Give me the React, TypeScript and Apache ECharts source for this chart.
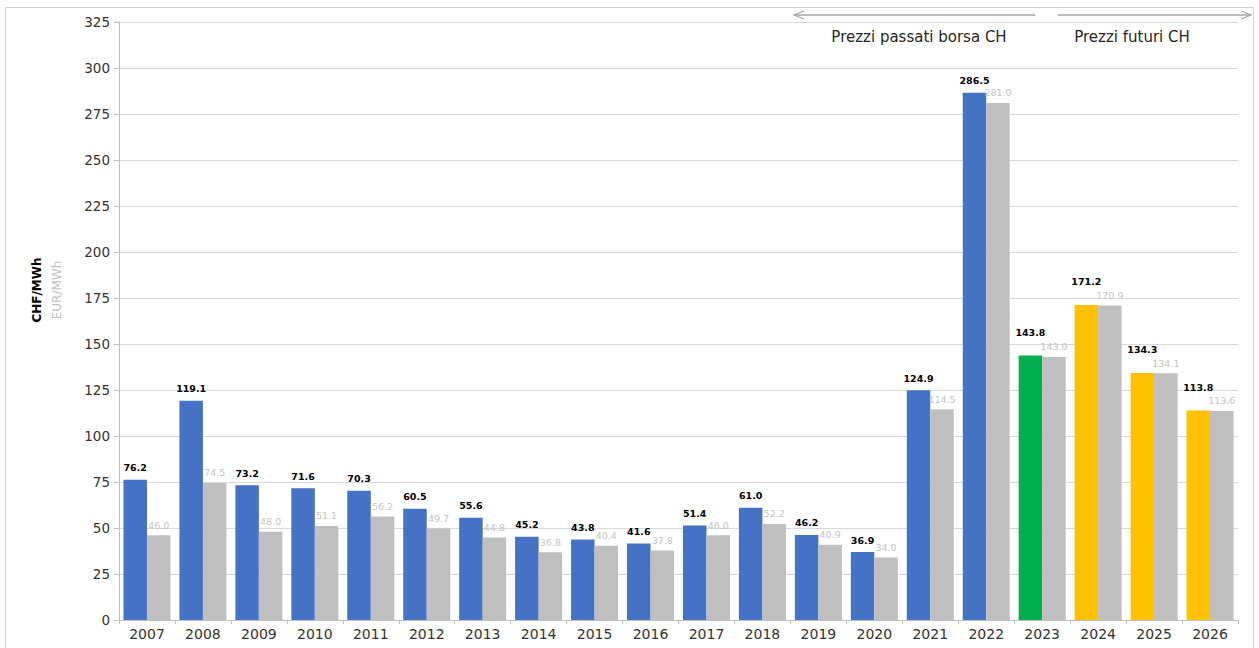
import React, { useEffect, useRef } from "react";
import * as echarts from "echarts";

const years = ["2007","2008","2009","2010","2011","2012","2013","2014","2015","2016","2017","2018","2019","2020","2021","2022","2023","2024","2025","2026"];
const chfValues = [76.2,119.1,73.2,71.6,70.3,60.5,55.6,45.2,43.8,41.6,51.4,61.0,46.2,36.9,124.9,286.5,143.8,171.2,134.3,113.8];
const eurValues = [46.0,74.5,48.0,51.1,56.2,49.7,44.8,36.8,40.4,37.8,46.0,52.2,40.9,34.0,114.5,281.0,143.0,170.9,134.1,113.6];
const yTicks = { min: 0, max: 325, interval: 25 };
const pastLabel = "Prezzi passati borsa CH";
const futureLabel = "Prezzi futuri CH";
const currentYear = 2023;

const FONT = "'DejaVu Sans', Verdana, sans-serif";

export default function App() {
  const ref = useRef<HTMLDivElement>(null);
  useEffect(() => {
    if (!ref.current) return;
    const chart = echarts.init(ref.current, undefined, { renderer: "svg" });
    const colorFor = (y: string) => {
      const n = Number(y);
      if (n < currentYear) return "#4472C4";
      if (n === currentYear) return "#00B050";
      return "#FFC000";
    };
    const chfData = chfValues.map((v, i) => ({
      value: v,
      itemStyle: { color: colorFor(years[i]) },
      label: { distance: Number(years[i]) >= currentYear ? 18 : 7 },
    }));
    chart.setOption({
      animation: false,
      textStyle: { fontFamily: FONT },
      grid: { left: 119, right: 21, top: 22, bottom: 28, containLabel: false },
      xAxis: {
        type: "category",
        data: years,
        axisLine: { lineStyle: { color: "#bfbfbf" } },
        axisTick: { show: true, length: 4, lineStyle: { color: "#bfbfbf" } },
        axisLabel: { color: "#333333", fontSize: 14, margin: 7, fontFamily: FONT },
      },
      yAxis: {
        type: "value",
        min: yTicks.min,
        max: yTicks.max,
        interval: yTicks.interval,
        axisLine: { show: true, lineStyle: { color: "#bfbfbf" } },
        axisTick: { show: true, length: 5, lineStyle: { color: "#bfbfbf" } },
        axisLabel: { color: "#333333", fontSize: 13.5, margin: 9, fontFamily: FONT },
        splitLine: { lineStyle: { color: "#d9d9d9" } },
      },
      series: [
        {
          type: "bar",
          name: "CHF/MWh",
          data: chfData,
          barGap: "0%",
          barCategoryGap: "16%",
          label: {
            show: true,
            position: "top",
            color: "#000",
            fontWeight: "bold",
            fontSize: 9.5,
            fontFamily: FONT,
            formatter: (p: any) => Number(p.value).toFixed(1),
          },
        },
        {
          type: "bar",
          name: "EUR/MWh",
          data: eurValues,
          itemStyle: { color: "#BFBFBF" },
          label: {
            show: true,
            position: "top",
            distance: 5,
            color: "#c4c4c4",
            fontSize: 9.5,
            fontFamily: FONT,
            formatter: (p: any) => Number(p.value).toFixed(1),
          },
        },
      ],
      graphic: [
        {
          type: "rect",
          shape: { x: 5.5, y: 7.5, width: 1248, height: 660 },
          style: { fill: "none", stroke: "#d0d0d0", lineWidth: 1 },
          silent: true,
        },
        {
          type: "text",
          x: 37,
          y: 290,
          rotation: Math.PI / 2,
          style: { text: "CHF/MWh", fill: "#000", font: `bold 12px ${FONT}`, align: "center", verticalAlign: "middle" },
        },
        {
          type: "text",
          x: 57,
          y: 290,
          rotation: Math.PI / 2,
          style: { text: "EUR/MWh", fill: "#bfbfbf", font: `12px ${FONT}`, align: "center", verticalAlign: "middle" },
        },
        {
          type: "line",
          shape: { x1: 794, y1: 15, x2: 1035, y2: 15 },
          style: { stroke: "#a6a6a6", lineWidth: 1.5 },
        },
        {
          type: "polyline",
          shape: { points: [[804, 11], [794, 15], [804, 19]] },
          style: { stroke: "#a6a6a6", lineWidth: 1.2, fill: "none" },
        },
        {
          type: "line",
          shape: { x1: 1058, y1: 15, x2: 1251, y2: 15 },
          style: { stroke: "#a6a6a6", lineWidth: 1.5 },
        },
        {
          type: "polyline",
          shape: { points: [[1241, 11], [1251, 15], [1241, 19]] },
          style: { stroke: "#a6a6a6", lineWidth: 1.2, fill: "none" },
        },
        {
          type: "text",
          x: 919,
          y: 37,
          style: { text: pastLabel, fill: "#262626", font: `15px ${FONT}`, align: "center", verticalAlign: "middle" },
        },
        {
          type: "text",
          x: 1132,
          y: 37,
          style: { text: futureLabel, fill: "#262626", font: `15px ${FONT}`, align: "center", verticalAlign: "middle" },
        },
      ],
    });
    return () => chart.dispose();
  }, []);
  return (
    <div
      ref={ref}
      style={{ position: "fixed", left: 0, top: 0, width: 1259, height: 648, background: "#fff" }}
    />
  );
}
